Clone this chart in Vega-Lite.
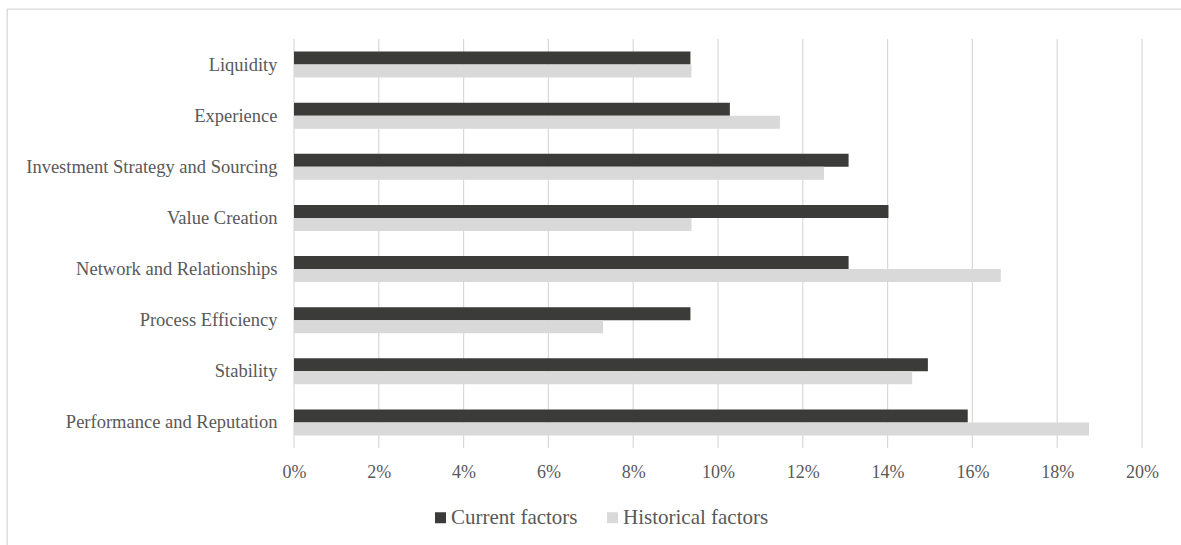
{
  "$schema": "https://vega.github.io/schema/vega-lite/v6.json",
  "autosize": {"type": "none"},
  "padding": {"left": 7, "top": 9, "right": 0, "bottom": 0},
  "width": 1185,
  "height": 545,
  "background": "#ffffff",
  "config": {
    "view": {"stroke": "#d9d9d9", "strokeWidth": 1.3},
    "font": "Liberation Serif",
    "axis": {
      "labelFont": "Liberation Serif",
      "labelColor": "#595959",
      "domain": false,
      "ticks": false,
      "grid": false
    },
    "legend": {"padding": 0}
  },
  "datasets": {
    "shares": [
      {"factor": "Liquidity", "series": "Current factors", "share": 0.0935},
      {"factor": "Liquidity", "series": "Historical factors", "share": 0.09375},
      {"factor": "Experience", "series": "Current factors", "share": 0.1028},
      {"factor": "Experience", "series": "Historical factors", "share": 0.1146},
      {"factor": "Investment Strategy and Sourcing", "series": "Current factors", "share": 0.1308},
      {"factor": "Investment Strategy and Sourcing", "series": "Historical factors", "share": 0.125},
      {"factor": "Value Creation", "series": "Current factors", "share": 0.1402},
      {"factor": "Value Creation", "series": "Historical factors", "share": 0.09375},
      {"factor": "Network and Relationships", "series": "Current factors", "share": 0.1308},
      {"factor": "Network and Relationships", "series": "Historical factors", "share": 0.1667},
      {"factor": "Process Efficiency", "series": "Current factors", "share": 0.0935},
      {"factor": "Process Efficiency", "series": "Historical factors", "share": 0.0729},
      {"factor": "Stability", "series": "Current factors", "share": 0.1495},
      {"factor": "Stability", "series": "Historical factors", "share": 0.1458},
      {"factor": "Performance and Reputation", "series": "Current factors", "share": 0.1589},
      {"factor": "Performance and Reputation", "series": "Historical factors", "share": 0.1875}
    ],
    "gridlines": [
      {"tick": 0}, {"tick": 0.02}, {"tick": 0.04}, {"tick": 0.06}, {"tick": 0.08},
      {"tick": 0.1}, {"tick": 0.12}, {"tick": 0.14}, {"tick": 0.16}, {"tick": 0.18}, {"tick": 0.2}
    ]
  },
  "resolve": {"scale": {"y": "independent"}},
  "layer": [
    {
      "data": {"name": "gridlines"},
      "mark": {"type": "rule", "color": "#d9d9d9", "strokeWidth": 1.2},
      "encoding": {
        "x": {
          "field": "tick",
          "type": "quantitative",
          "title": null,
          "scale": {"domain": [0, 0.2], "nice": false, "range": [287, 1135]},
          "axis": {
            "values": [0, 0.02, 0.04, 0.06, 0.08, 0.1, 0.12, 0.14, 0.16, 0.18, 0.2],
            "format": ".0%",
            "labelFont": "Liberation Serif",
            "labelFontSize": 18,
            "labelPadding": -91,
            "labelFlush": false,
            "grid": false
          }
        },
        "y": {"datum": 0, "type": "quantitative", "scale": {"domain": [0, 1], "range": [30, 439]}, "axis": null},
        "y2": {"datum": 1}
      }
    },
    {
      "data": {"name": "shares"},
      "mark": {"type": "bar"},
      "encoding": {
        "y": {
          "field": "factor",
          "type": "nominal",
          "sort": null,
          "title": null,
          "scale": {"range": [30, 439], "paddingInner": 0.49, "paddingOuter": 0.245},
          "axis": {"offset": -287, "labelFont": "Liberation Serif", "labelFontSize": 18.5, "labelPadding": 17, "labelLimit": 400, "grid": false}
        },
        "yOffset": {
          "field": "series",
          "type": "nominal",
          "sort": ["Current factors", "Historical factors"],
          "scale": {"paddingInner": 0, "paddingOuter": 0}
        },
        "x": {
          "field": "share",
          "type": "quantitative",
          "title": null,
          "scale": {"domain": [0, 0.2], "nice": false, "range": [287, 1135]},
          "axis": {
            "values": [0, 0.02, 0.04, 0.06, 0.08, 0.1, 0.12, 0.14, 0.16, 0.18, 0.2],
            "format": ".0%",
            "labelFont": "Liberation Serif",
            "labelFontSize": 18,
            "labelPadding": -91,
            "labelFlush": false,
            "grid": false
          }
        },
        "color": {
          "field": "series",
          "type": "nominal",
          "title": null,
          "scale": {
            "domain": ["Current factors", "Historical factors"],
            "range": ["#3b3b3a", "#d9d9d9"]
          },
          "legend": {
            "orient": "none",
            "legendX": 423,
            "legendY": 498,
            "direction": "horizontal",
            "symbolType": "square",
            "symbolSize": 121,
            "symbolStrokeWidth": 0,
            "labelFont": "Liberation Serif",
            "labelFontSize": 21,
            "labelColor": "#595959",
            "labelOffset": 0,
            "columnPadding": 24
          }
        }
      }
    }
  ]
}
